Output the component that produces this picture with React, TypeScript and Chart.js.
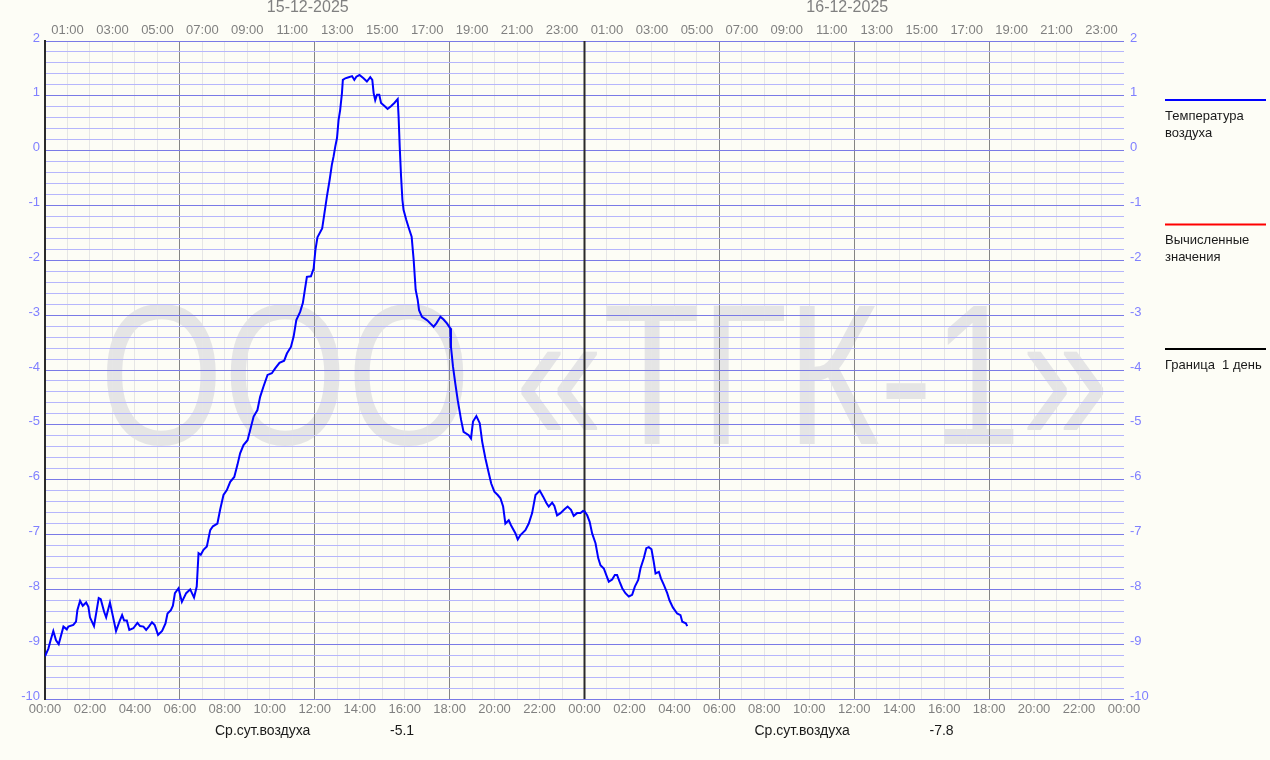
import React, { useEffect, useRef } from 'react';
import { Chart, registerables } from 'chart.js';

Chart.register(...registerables);

// ---- data ----
const sampleHours = [
  0.0, 0.15, 0.25, 0.37, 0.49, 0.61, 0.82, 0.97, 1.04, 1.26, 1.38, 1.44, 1.56, 1.68, 1.83, 1.93,
  2.0, 2.18, 2.3, 2.39, 2.48, 2.63, 2.72, 2.89, 3.01, 3.16, 3.31, 3.43, 3.52, 3.64, 3.75, 3.93,
  4.11, 4.23, 4.38, 4.5, 4.62, 4.76, 4.88, 5.03, 5.21, 5.36, 5.45, 5.6, 5.69, 5.78, 5.94, 6.09,
  6.28, 6.46, 6.63, 6.75, 6.83, 6.93, 7.05, 7.2, 7.35, 7.47, 7.67, 7.79, 7.94, 8.09, 8.24, 8.42,
  8.56, 8.68, 8.83, 9.01, 9.13, 9.28, 9.45, 9.57, 9.72, 9.9, 10.09, 10.24, 10.43, 10.64, 10.76,
  10.94, 11.06, 11.18, 11.35, 11.47, 11.56, 11.65, 11.83, 11.95, 12.03, 12.12, 12.33, 12.42,
  12.54, 12.66, 12.76, 12.84, 12.91, 12.99, 13.06, 13.13, 13.21, 13.25, 13.36, 13.51, 13.66,
  13.76, 13.85, 13.99, 14.17, 14.32, 14.47, 14.56, 14.62, 14.69, 14.77, 14.87, 14.95, 15.14,
  15.24, 15.39, 15.54, 15.69, 15.73, 15.78, 15.84, 15.9, 15.95, 16.07, 16.19, 16.31, 16.4, 16.49,
  16.58, 16.64, 16.77, 16.99, 17.14, 17.29, 17.41, 17.59, 17.73, 17.88, 18.03, 18.06, 18.15,
  18.25, 18.36, 18.51, 18.62, 18.85, 18.95, 19.04, 19.19, 19.34, 19.45, 19.59, 19.74, 19.85,
  19.99, 20.14, 20.26, 20.38, 20.48, 20.63, 20.73, 20.93, 21.03, 21.15, 21.37, 21.52, 21.67,
  21.82, 22.01, 22.16, 22.31, 22.41, 22.56, 22.66, 22.78, 22.93, 23.11, 23.25, 23.4, 23.52,
  23.67, 23.82, 23.94, 24.01, 24.12, 24.23, 24.34, 24.49, 24.61, 24.71, 24.86, 24.97, 25.08,
  25.23, 25.35, 25.45, 25.56, 25.68, 25.82, 25.97, 26.12, 26.24, 26.39, 26.49, 26.64, 26.75,
  26.86, 26.98, 27.08, 27.16, 27.31, 27.4, 27.53, 27.68, 27.78, 27.93, 28.12, 28.27, 28.35,
  28.51, 28.57,
];

const airTemperature = [
  -9.22, -9.08, -8.93, -8.76, -8.93, -9.0, -8.68, -8.73, -8.68, -8.65, -8.59, -8.38, -8.21, -8.3,
  -8.24, -8.32, -8.51, -8.67, -8.38, -8.16, -8.18, -8.41, -8.51, -8.24, -8.47, -8.76, -8.59,
  -8.47, -8.57, -8.57, -8.74, -8.71, -8.61, -8.67, -8.68, -8.74, -8.68, -8.6, -8.65, -8.83,
  -8.76, -8.62, -8.44, -8.38, -8.3, -8.07, -7.98, -8.23, -8.07, -8.0, -8.15, -7.95, -7.34, -7.37,
  -7.28, -7.22, -6.92, -6.85, -6.8, -6.55, -6.28, -6.19, -6.04, -5.95, -5.73, -5.52, -5.37,
  -5.28, -5.09, -4.85, -4.73, -4.49, -4.3, -4.09, -4.06, -3.97, -3.87, -3.83, -3.7, -3.58, -3.39,
  -3.09, -2.94, -2.78, -2.54, -2.3, -2.29, -2.15, -1.81, -1.58, -1.42, -1.17, -0.84, -0.54,
  -0.26, -0.1, 0.07, 0.23, 0.56, 0.74, 1.05, 1.29, 1.32, 1.34, 1.36, 1.29, 1.35, 1.38, 1.32,
  1.26, 1.34, 1.29, 1.05, 0.92, 1.02, 1.02, 0.87, 0.8, 0.76, 0.81, 0.87, 0.94, 0.62, 0.07,
  -0.47, -0.9, -1.08, -1.26, -1.42, -1.57, -1.99, -2.54, -2.72, -2.91, -3.03, -3.09, -3.15,
  -3.21, -3.15, -3.03, -3.08, -3.15, -3.24, -3.58, -3.94, -4.24, -4.55, -4.91, -5.13, -5.19,
  -5.25, -4.94, -4.84, -4.97, -5.31, -5.61, -5.88, -6.07, -6.22, -6.28, -6.34, -6.49, -6.8,
  -6.74, -6.83, -6.98, -7.09, -7.01, -6.92, -6.8, -6.61, -6.28, -6.2, -6.31, -6.43, -6.49,
  -6.42, -6.48, -6.65, -6.61, -6.54, -6.49, -6.55, -6.66, -6.61, -6.61, -6.57, -6.58, -6.65,
  -6.77, -6.98, -7.16, -7.43, -7.56, -7.62, -7.74, -7.86, -7.82, -7.74, -7.74, -7.86, -7.98,
  -8.07, -8.13, -8.1, -7.95, -7.83, -7.62, -7.43, -7.25, -7.23, -7.27, -7.5, -7.71, -7.68,
  -7.8, -7.92, -8.07, -8.2, -8.33, -8.44, -8.47, -8.59, -8.62, -8.67,
];

const boundaryHours = [24, 24];
const boundaryValues = [-10, 2];

const dayDates = ['15-12-2025', '16-12-2025'];
const dailyAvgLabel = 'Ср.сут.воздуха';
const dailyAvgValues = ['-5.1', '-7.8'];

const seriesNames = ['Температура воздуха', 'Вычисленные значения', 'Граница  1 день'];
const legendLines = [['Температура', 'воздуха'], ['Вычисленные', 'значения'], ['Граница  1 день']];
const seriesColors = ['#0000ff', '#ff0000', '#000000'];

const watermarkText = 'ООО «ТГК-1»';

const xMin = 0;
const xMax = 48;
const yMin = -10;
const yMax = 2;

// ---- styles ----
const FONT = '"Liberation Sans", Arial, sans-serif';
const BG = '#fdfdf6';

const pad2 = (n: number) => (n < 10 ? '0' + n : String(n));
const hourLabel = (h: number) => pad2(((h % 24) + 24) % 24) + ':00';
const yLabel = (v: number) => {
  const r = Math.round(v);
  return Math.abs(v - r) < 1e-6 ? String(r === 0 ? 0 : r) : '';
};
const isInt = (v: number) => Math.abs(v - Math.round(v)) < 1e-6;

const backgroundPlugin = {
  id: 'bgWatermark',
  beforeDraw(chart: any) {
    const { ctx, width, height, chartArea } = chart;
    ctx.save();
    ctx.fillStyle = BG;
    ctx.fillRect(0, 0, width, height);
    ctx.font = `200px ${FONT}`;
    ctx.fillStyle = '#e5e5e5';
    const w = ctx.measureText(watermarkText).width;
    const sx = 1010 / w;
    const cx = (chartArea.left + chartArea.right) / 2 + 20;
    ctx.translate(cx, 444);
    ctx.scale(sx, 1);
    ctx.textAlign = 'center';
    ctx.textBaseline = 'alphabetic';
    ctx.fillText(watermarkText, 0, 0);
    ctx.restore();
  },
};

const annotationPlugin = {
  id: 'annotations',
  afterDraw(chart: any) {
    const { ctx } = chart;
    const xs = chart.scales.x;
    ctx.save();
    // dates on top
    ctx.font = `16px ${FONT}`;
    ctx.fillStyle = '#808080';
    ctx.textAlign = 'center';
    ctx.textBaseline = 'middle';
    dayDates.forEach((d, i) => {
      ctx.fillText(d, xs.getPixelForValue(i * 24 + 12) - 7, 8);
    });
    // daily averages at bottom
    ctx.font = `14px ${FONT}`;
    ctx.fillStyle = '#1a1a1a';
    ctx.textAlign = 'left';
    dailyAvgValues.forEach((v, i) => {
      const x0 = xs.getPixelForValue(i * 24);
      ctx.fillText(dailyAvgLabel, x0 + 170, 731);
      ctx.fillText(v, x0 + 345, 731);
    });
    // legend
    const lx = 1165;
    const lx2 = 1266;
    legendLines.forEach((lines, i) => {
      const ly = 100 + i * 124.5;
      ctx.strokeStyle = seriesColors[i];
      ctx.lineWidth = 2;
      ctx.beginPath();
      ctx.moveTo(lx, ly);
      ctx.lineTo(lx2, ly);
      ctx.stroke();
      ctx.font = `13px ${FONT}`;
      ctx.fillStyle = '#1a1a1a';
      ctx.textAlign = 'left';
      ctx.textBaseline = 'middle';
      lines.forEach((t, j) => {
        ctx.fillText(t, lx, ly + 16 + j * 17);
      });
    });
    ctx.restore();
  },
};

export default function App() {
  const ref = useRef<HTMLCanvasElement>(null);

  useEffect(() => {
    if (!ref.current) return;
    const tempPoints = sampleHours.map((h, i) => ({ x: h, y: airTemperature[i] }));
    const boundaryPoints = boundaryHours.map((h, i) => ({ x: h, y: boundaryValues[i] }));

    const chart = new Chart(ref.current, {
      type: 'line',
      data: {
        datasets: [
          {
            label: seriesNames[0],
            data: tempPoints,
            borderColor: seriesColors[0],
            borderWidth: 2,
            pointRadius: 0,
            tension: 0,
            xAxisID: 'x',
            yAxisID: 'y',
          },
          {
            label: seriesNames[1],
            data: [],
            borderColor: seriesColors[1],
            borderWidth: 2,
            pointRadius: 0,
            xAxisID: 'x',
            yAxisID: 'y',
          },
          {
            label: seriesNames[2],
            data: boundaryPoints,
            borderColor: '#2a2a2a',
            borderWidth: 2,
            pointRadius: 0,
            xAxisID: 'x',
            yAxisID: 'y',
          },
        ],
      },
      options: {
        responsive: false,
        animation: false,
        events: [],
        layout: { padding: 0 },
        plugins: {
          legend: { display: false },
          tooltip: { enabled: false },
          title: { display: false },
        },
        scales: {
          x: {
            type: 'linear',
            position: 'bottom',
            min: xMin,
            max: xMax,
            afterFit: (s: any) => {
              s.height = 61;
            },
            ticks: {
              stepSize: 1,
              autoSkip: false,
              maxRotation: 0,
              minRotation: 0,
              padding: 3,
              color: '#808080',
              font: { family: FONT, size: 13 },
              callback: (v: any) => (Number(v) % 2 === 0 ? hourLabel(Number(v)) : ''),
            },
            grid: {
              drawTicks: false,
              z: -2,
              lineWidth: 1,
              color: (c: any) => {
                const v = c.tick ? c.tick.value : 0;
                if (v >= 48) return 'rgba(0,0,0,0)';
                if (v % 6 === 0) return '#858585';
                return '#e6e6e6';
              },
            },
            border: { display: false },
          },
          x2: {
            type: 'linear',
            position: 'top',
            min: xMin,
            max: xMax,
            afterFit: (s: any) => {
              s.height = 41;
            },
            ticks: {
              stepSize: 1,
              autoSkip: false,
              maxRotation: 0,
              minRotation: 0,
              padding: 3,
              color: '#808080',
              font: { family: FONT, size: 13 },
              callback: (v: any) => (Number(v) % 2 === 1 ? hourLabel(Number(v)) : ''),
            },
            grid: { display: false, drawTicks: false },
            border: { display: false },
          },
          y: {
            type: 'linear',
            position: 'left',
            min: yMin,
            max: yMax,
            afterFit: (s: any) => {
              s.width = 45;
            },
            ticks: {
              stepSize: 0.2,
              autoSkip: false,
              padding: 5,
              labelOffset: -3,
              color: '#8080ff',
              font: { family: FONT, size: 13 },
              callback: (v: any) => yLabel(Number(v)),
            },
            grid: {
              drawTicks: false,
              lineWidth: 1,
              color: (c: any) => {
                const v = c.tick ? c.tick.value : 0;
                return isInt(v) ? '#7a7ae6' : '#b6b6fc';
              },
            },
            border: { display: true, color: '#2a2a2a', width: 2 },
          },
          y2: {
            type: 'linear',
            position: 'right',
            min: yMin,
            max: yMax,
            afterFit: (s: any) => {
              s.width = 146;
            },
            ticks: {
              stepSize: 0.2,
              autoSkip: false,
              padding: 6,
              labelOffset: -3,
              color: '#8080ff',
              font: { family: FONT, size: 13 },
              callback: (v: any) => yLabel(Number(v)),
            },
            grid: { display: false, drawTicks: false },
            border: { display: false },
          },
        },
      },
      plugins: [backgroundPlugin, annotationPlugin],
    } as any);

    return () => chart.destroy();
  }, []);

  return (
    <div style={{ position: 'fixed', left: 0, top: 0, width: 1270, height: 760, background: BG }}>
      <canvas ref={ref} width={1270} height={760} style={{ display: 'block' }} />
    </div>
  );
}
